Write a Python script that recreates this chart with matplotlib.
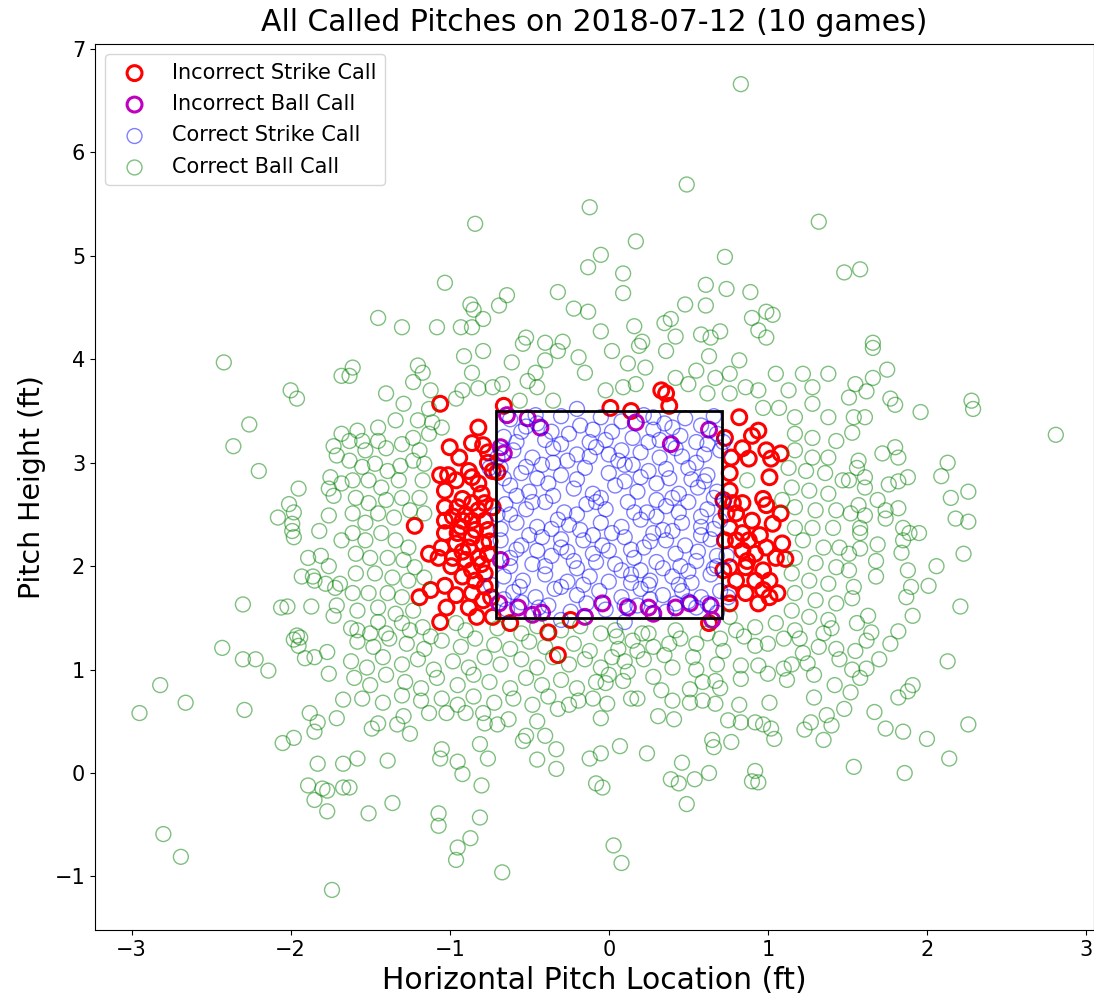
import matplotlib
matplotlib.use("Agg")
import matplotlib.pyplot as plt
from matplotlib.patches import Rectangle
import numpy as np

title = "All Called Pitches on 2018-07-12 (10 games)"
x_label = "Horizontal Pitch Location (ft)"
y_label = "Pitch Height (ft)"
zone_x = [-0.71, 0.71]
zone_y = [1.5, 3.5]

incorrect_strike = [
(-1.06,3.57),(-0.66,3.55),(-0.82,3.34),(-1.00,3.15),(-0.94,3.05),(-0.86,3.19),(-0.79,3.17),(-0.76,3.10),
(-1.06,2.88),(-1.01,2.88),(-0.96,2.83),(-0.86,2.86),(-0.82,2.80),(-0.70,2.91),(-1.03,2.73),(-1.03,2.57),
(-0.95,2.57),(-0.86,2.61),(-0.82,2.54),(-0.78,2.61),(-0.73,2.57),(-1.03,2.44),(-0.92,2.44),(-0.86,2.44),
(-0.78,2.44),(-1.22,2.39),(-1.03,2.32),(-0.95,2.32),(-0.84,2.35),(-0.76,2.35),(-1.05,2.18),(-0.96,2.22),
(-0.88,2.18),(-0.79,2.22),(-1.13,2.12),(-1.07,2.08),(-0.98,2.08),(-0.90,2.06),(-0.82,2.08),(-0.76,2.12),
(-0.86,1.96),(-0.78,1.93),(-0.84,1.86),(-0.78,1.80),(-1.03,1.81),(-1.12,1.77),(-1.19,1.70),(-0.86,1.74),
(-0.79,1.67),(-1.02,1.60),(-0.88,1.60),(-0.83,1.51),(-0.73,1.51),(-1.06,1.46),(-0.62,1.45),(-0.38,1.36),
(-0.24,1.48),(-0.73,2.92),(-0.32,1.14),(-0.92,2.65),(-0.99,2.00),(-0.74,1.70),
(-0.90,2.50),(-0.80,2.70),(-0.93,2.38),(-0.86,2.28),(-0.92,2.14),(-0.80,2.02),(-0.92,1.90),(-0.96,1.72),
(-0.75,2.24),(-0.88,2.92),(-0.76,3.00),(-0.98,2.48),
(0.01,3.53),(0.14,3.50),(0.33,3.70),(0.36,3.67),(0.38,3.55),(0.82,3.44),(0.73,3.24),(0.90,3.26),
(0.94,3.31),(0.84,3.14),(0.77,3.05),(0.99,3.12),(1.02,3.04),(1.08,3.09),(0.88,3.04),(0.76,2.90),
(1.01,2.86),(0.76,2.73),(0.72,2.64),(0.78,2.61),(0.84,2.61),(0.97,2.65),(0.99,2.59),(1.08,2.51),
(0.74,2.51),(0.80,2.51),(0.90,2.44),(1.03,2.41),(0.76,2.37),(0.84,2.32),(0.73,2.25),(0.80,2.25),
(0.88,2.25),(0.99,2.18),(1.09,2.22),(0.84,2.15),(0.92,2.12),(1.05,2.08),(1.11,2.07),(0.76,1.99),
(0.86,1.99),(0.72,1.96),(0.97,1.96),(0.80,1.86),(0.92,1.86),(1.01,1.86),(0.76,1.74),(0.86,1.74),
(0.97,1.77),(1.06,1.74),(0.76,1.64),(0.94,1.64),(1.01,1.70),(0.63,1.45),(0.87,2.05),(0.95,2.30),
]

incorrect_ball = [
(-0.64,3.46),(-0.51,3.43),(-0.43,3.34),(-0.68,3.15),(-0.66,3.09),(-0.68,2.06),(-0.69,1.64),(-0.57,1.60),
(-0.48,1.53),(-0.42,1.55),(-0.15,1.51),(0.17,3.39),(0.39,3.18),(0.63,3.32),(-0.04,1.64),(0.12,1.60),
(0.25,1.60),(0.28,1.54),(0.42,1.60),(0.51,1.64),(0.64,1.62),(0.65,1.48),
]

correct_strike = [
(-0.62,3.42),(-0.45,3.38),(-0.30,3.45),(-0.18,3.36),(-0.05,3.44),(0.08,3.40),(0.22,3.46),(0.35,3.38),(0.48,3.43),(0.58,3.36),(0.66,3.45),
(-0.66,3.25),(-0.55,3.30),(-0.40,3.22),(-0.25,3.28),(-0.12,3.20),(0.02,3.30),(0.15,3.24),(0.28,3.32),(0.45,3.26),(0.55,3.20),(0.68,3.28),
(-0.60,3.12),(-0.48,3.05),(-0.35,3.14),(-0.20,3.08),(-0.08,3.15),(0.06,3.02),(0.20,3.10),(0.32,3.05),(0.42,3.14),(0.60,3.08),(0.70,3.12),
(-0.68,2.95),(-0.55,2.90),(-0.42,2.98),(-0.30,2.88),(-0.15,2.95),(0.00,2.90),(0.10,2.98),(0.25,2.92),(0.38,2.85),(0.50,2.95),(0.62,2.88),
(-0.62,2.78),(-0.50,2.72),(-0.38,2.80),(-0.22,2.75),(-0.10,2.70),(0.04,2.78),(0.18,2.72),(0.30,2.80),(0.44,2.70),(0.56,2.76),(0.68,2.72),
(-0.65,2.60),(-0.52,2.55),(-0.40,2.62),(-0.28,2.52),(-0.14,2.60),(-0.02,2.55),(0.12,2.62),(0.24,2.52),(0.36,2.58),(0.50,2.62),(0.62,2.55),
(-0.58,2.42),(-0.45,2.38),(-0.32,2.45),(-0.18,2.35),(-0.05,2.42),(0.08,2.38),(0.20,2.45),(0.34,2.35),(0.46,2.42),(0.58,2.38),(0.70,2.44),
(-0.68,2.25),(-0.55,2.20),(-0.42,2.28),(-0.30,2.18),(-0.16,2.25),(-0.04,2.20),(0.10,2.28),(0.22,2.18),(0.36,2.25),(0.48,2.20),(0.64,2.26),
(-0.62,2.08),(-0.48,2.02),(-0.36,2.10),(-0.22,2.05),(-0.10,2.12),(0.04,2.02),(0.16,2.08),(0.30,2.04),(0.42,2.12),(0.55,2.05),(0.68,2.10),
(-0.66,1.90),(-0.54,1.86),(-0.40,1.92),(-0.26,1.85),(-0.12,1.90),(0.00,1.85),(0.14,1.92),(0.26,1.86),(0.40,1.90),(0.52,1.84),(0.64,1.92),
(-0.60,1.75),(-0.46,1.70),(-0.34,1.78),(-0.20,1.72),(-0.06,1.76),(0.08,1.70),(0.20,1.78),(0.34,1.72),(0.46,1.76),(0.58,1.70),(0.70,1.76),
(-0.64,1.58),(-0.38,1.62),(-0.24,1.56),(-0.02,1.58),(0.18,1.62),(0.36,1.56),(0.55,1.60),(0.68,1.55),
(-0.52,3.35),(-0.10,3.32),(0.40,3.34),(-0.35,3.00),(0.15,2.98),(0.55,3.00),(-0.58,2.68),(-0.05,2.66),(0.40,2.66),(-0.25,2.40),
(0.28,2.32),(-0.50,2.30),(0.58,2.30),(-0.20,1.98),(0.20,1.96),(0.45,2.00),(-0.55,1.65),(0.10,1.62),(0.50,1.66),(-0.30,3.18),
(0.25,3.20),(-0.45,2.85),(0.10,2.82),(0.60,2.82),(-0.35,2.68),(0.30,2.48),(-0.10,2.30),(0.00,2.15),(-0.45,2.15),(0.50,1.95),
(-0.30,1.80),(0.25,1.82),(0.00,3.08),(-0.62,2.00),(0.66,1.98),(-0.14,1.64),(0.42,1.64),(-0.70,2.50),(0.72,2.62),(-0.70,3.05),
(0.72,3.20),(-0.74,1.82),(0.74,2.10),(-0.75,2.95),(0.75,1.70),(-0.20,3.52),(0.10,1.46),(-0.30,1.48),
(-0.58,3.20),(-0.36,3.30),(-0.02,3.22),(0.32,3.22),(0.62,3.18),(-0.26,3.02),(0.08,3.12),(0.46,3.06),(-0.66,2.85),(-0.20,2.84),
(0.20,2.86),(0.52,2.84),(-0.48,2.62),(-0.08,2.62),(0.30,2.64),(0.66,2.66),(-0.62,2.50),(-0.20,2.50),(0.16,2.52),(0.44,2.52),
(-0.36,2.36),(0.02,2.32),(0.40,2.34),(0.66,2.36),(-0.58,2.16),(-0.26,2.14),(0.14,2.16),(0.56,2.14),(-0.40,2.00),(0.08,1.96),
(0.34,1.98),(-0.56,1.80),(-0.16,1.82),(0.14,1.84),(0.44,1.82),(-0.44,1.60),(0.26,1.68),(0.62,1.64),(-0.46,3.46),(0.28,3.44),
(-0.12,3.06),(0.36,2.94),(-0.52,2.96),(0.58,2.48),(-0.68,2.36),(-0.30,2.26),(0.26,2.24),(0.68,2.00),(-0.08,2.04),(-0.66,1.68),
]

correct_ball = [
(-0.84,5.31),(-0.12,5.47),(-0.13,4.89),(-1.03,4.74),(-0.32,4.65),(-0.64,4.62),(-0.69,4.52),(-0.87,4.53),(-0.85,4.48),(-0.79,4.39),
(-0.86,4.31),(-0.93,4.31),(-1.08,4.31),(-1.30,4.31),(-1.45,4.40),(-0.22,4.49),(-0.13,4.46),(-0.52,4.21),(-0.40,4.16),(-0.29,4.17),
(0.83,6.66),(0.49,5.69),(1.32,5.33),(0.17,5.14),(-0.05,5.01),(0.73,4.99),(0.09,4.83),(0.09,4.64),(0.61,4.72),(0.74,4.68),
(0.89,4.65),(0.48,4.53),(0.61,4.52),(0.35,4.35),(0.39,4.39),(0.16,4.32),(0.90,4.40),(0.99,4.46),(1.03,4.43),(0.94,4.28),
(0.99,4.21),(0.70,4.27),(0.58,4.24),(0.64,4.21),(0.42,4.22),(0.21,4.17),(1.48,4.84),(-0.05,4.27),(1.58,4.87),(1.66,4.16),
(-2.42,3.97),(-2.00,3.70),(-1.96,3.62),(-2.26,3.37),(-2.36,3.16),(-2.20,2.92),(-1.95,2.75),(-2.01,2.60),(-2.08,2.47),(-1.98,2.52),
(-1.99,2.41),(-1.99,2.34),(-1.98,2.28),(-1.82,2.34),(-1.76,2.49),(-1.68,3.84),(-1.68,3.28),(-1.73,3.16),(-1.71,3.07),(-1.75,2.86),
(-1.76,2.75),(-1.73,2.68),(-1.68,2.80),(-1.68,2.25),(-1.89,2.08),(-1.81,2.10),(-1.76,2.00),(-1.93,1.90),(-1.86,1.90),(-1.85,1.86),
(-1.78,1.83),(-1.72,1.79),(-1.69,1.83),(-2.30,1.63),(-2.06,1.60),(-2.02,1.61),(-1.87,1.61),(-1.71,1.62),(-1.73,1.52),(-1.96,1.33),
(-1.94,1.31),
(-2.43,1.21),(-2.30,1.10),(-2.22,1.10),(-2.14,0.99),(-2.82,0.85),(-2.66,0.68),(-2.95,0.58),(-2.29,0.61),(-1.98,1.29),(-1.95,1.23),
(-1.91,1.11),(-1.85,1.12),(-1.77,1.17),(-1.76,0.96),(-1.88,0.58),(-1.83,0.49),(-1.85,0.40),(-1.71,0.53),(-1.98,0.34),(-2.05,0.29),
(-1.83,0.09),(-1.67,0.09),(-1.89,-0.12),(-1.80,-0.15),(-1.77,-0.17),(-1.85,-0.26),(-1.77,-0.37),(-1.67,-0.14),(-2.80,-0.59),(-2.69,-0.81),
(-1.74,-1.13),(-1.67,0.71),
(-0.67,-0.96),(-0.96,-0.84),(-0.95,-0.72),(-0.87,-0.63),(-0.81,-0.43),(-1.07,-0.51),(-1.07,-0.39),(-1.36,-0.29),(-1.51,-0.39),(-1.63,-0.14),
(-0.80,-0.12),(-0.92,-0.01),(-0.95,0.11),(-1.05,0.23),(-1.06,0.14),(-0.81,0.28),(-0.76,0.14),(-1.39,0.12),(-1.58,0.14),(-0.45,0.13),
(-0.33,0.23),(-0.33,0.04),(-0.54,0.31),(-0.52,0.36),(-0.40,0.36),(-0.12,0.14),(-0.08,-0.10),(-1.49,0.43),(-1.45,0.48),(-1.29,0.55),
(-1.25,0.38),(-1.33,0.47),(-1.13,0.58),(-1.02,0.58),(-0.90,0.58),(-0.79,0.58),(-0.78,0.48),(-0.70,0.47),(-0.63,0.52),(-0.45,0.50),
(-0.32,0.62),(-0.19,0.70),
(-1.58,1.27),(-1.48,1.22),(-1.38,1.30),(-1.27,1.25),(-1.16,1.20),(-1.05,1.28),(-0.93,1.22),(-0.84,1.30),(-0.72,1.24),(-0.62,1.20),
(-0.50,1.27),(-0.40,1.22),(-0.22,1.25),(-0.12,1.18),
(-1.62,1.08),(-1.52,1.02),(-1.42,1.12),(-1.30,1.05),(-1.20,1.10),(-1.10,1.00),(-0.98,1.08),(-0.88,1.02),(-0.78,1.12),(-0.68,1.05),
(-0.55,1.10),(-0.45,1.02),(-0.35,1.12),(-0.25,1.05),(-0.15,1.10),(-0.05,1.02),
(-1.60,0.92),(-1.50,0.85),(-1.40,0.95),(-1.28,0.88),(-1.18,0.82),(-1.08,0.92),(-0.95,0.85),(-0.85,0.95),(-0.75,0.88),(-0.62,0.82),
(-0.52,0.92),(-0.42,0.85),(-0.30,0.90),(-0.20,0.82),(-0.08,0.88),
(-1.55,0.72),(-1.42,0.68),(-1.30,0.75),(-1.18,0.70),(-1.05,0.72),(-0.95,0.66),(-0.85,0.74),(-0.72,0.68),(-0.60,0.72),(-0.48,0.66),
(-0.38,0.74),(-0.25,0.66),(-0.10,0.72),
(-1.62,1.40),(-1.50,1.35),(-1.25,1.38),(-1.12,1.32),(-0.90,1.38),(-0.70,1.40),(-0.55,1.35),(-0.45,1.42),(-0.30,1.38),(-0.18,1.42),
(-0.05,1.35),
(0.03,-0.70),(0.08,-0.87),(0.49,-0.30),(0.39,-0.06),(0.44,-0.10),(0.54,-0.06),(0.63,0.00),(0.46,0.10),(0.92,0.02),(0.90,-0.08),
(0.94,-0.09),(-0.04,-0.14),(-0.05,0.19),(0.07,0.26),(0.24,0.19),(0.65,0.32),(0.66,0.25),(0.77,0.30),(1.04,0.33),(1.02,0.43),
(0.97,0.47),(0.92,0.49),(0.83,0.49),(0.75,0.51),(1.23,0.42),(1.27,0.49),(1.35,0.32),(1.37,0.56),(1.40,0.46),(1.01,0.68),
(1.29,0.73),(0.82,0.66),(0.31,0.55),(0.41,0.52),(0.40,0.70),(0.33,0.80),(0.51,0.68),(0.59,0.70),(0.67,0.67),(0.51,0.81),
(0.59,0.88),(0.67,0.89),(0.70,0.82),(0.83,0.91),(0.83,1.04),(0.94,1.04),(1.00,0.96),(1.12,0.90),(1.10,1.01),(1.15,1.05),
(1.25,1.06),(1.29,0.95),(1.22,1.16),(1.43,1.20),(0.92,1.23),(0.72,1.18),(0.53,1.12),(0.35,1.14),(0.18,1.18),(0.14,0.72),
(0.18,0.72),(-0.01,0.67),(-0.05,0.53),(0.28,0.93),(0.09,0.89),(-0.02,0.87),
(0.02,1.12),(0.06,1.20),(0.10,1.08),(0.15,1.28),(0.22,1.10),(0.28,1.22),(0.05,1.32),(0.25,1.35),(0.38,1.25),(0.45,1.30),
(0.55,1.25),(0.62,1.35),(0.70,1.30),(0.85,1.32),(1.00,1.25),(1.10,1.30),(0.40,1.02),(0.55,1.00),(0.68,1.05),(0.12,0.98),(0.00,0.95),
(2.13,1.08),(1.77,1.25),(1.53,1.00),(1.62,1.01),(1.91,0.85),(1.88,0.79),(1.82,0.73),(1.67,0.59),(1.74,0.43),(1.85,0.40),
(2.00,0.33),(2.26,0.47),(2.14,0.14),(1.86,0.00),(1.54,0.06),
(1.48,0.62),(1.52,0.78),(1.58,0.92),(1.45,1.10),(1.55,1.18),(1.62,1.28),(1.70,1.10),(1.42,0.85),
(1.66,4.11),(1.75,3.90),(1.66,3.82),(1.55,3.76),(1.62,3.69),(1.77,3.62),(1.80,3.56),(1.96,3.49),(2.28,3.60),(2.29,3.52),
(2.81,3.27),(1.51,3.63),(1.61,3.44),(1.54,3.44),(1.53,3.29),(1.72,3.09),(1.80,3.15),(1.82,3.05),(2.13,3.00),(2.09,2.87),
(1.76,2.79),(1.82,2.82),(1.88,2.86),(1.57,3.02),(1.56,2.95),(1.51,2.83),(1.61,2.86),(1.61,2.76),(2.15,2.66),(2.26,2.72),
(2.18,2.46),(2.26,2.43),(1.69,2.64),(1.57,2.59),(1.52,2.51),(1.61,2.49),(1.74,2.54),(1.74,2.46),(1.82,2.56),(1.58,2.37),
(1.58,2.32),(1.85,2.37),(1.89,2.32),(1.95,2.32),(1.85,2.25),(1.58,2.17),(1.69,2.21),(1.51,2.12),(1.84,2.13),(2.23,2.12),
(1.68,2.05),(1.51,1.96),(1.88,1.96),(2.06,2.00),(1.68,1.90),(1.90,1.80),(2.01,1.81),(1.87,1.70),(1.54,1.80),(1.53,1.69),
(2.21,1.61),(1.91,1.52),(1.63,1.52),(1.56,1.45),(1.65,1.36),(1.82,1.37),
(-1.61,3.92),(-1.63,3.84),(-0.79,4.08),(-0.54,4.15),(-0.91,4.03),(-1.20,3.94),(-1.17,3.87),(-0.86,3.87),(-0.61,3.97),(-0.67,3.76),
(-0.51,3.79),(-0.46,3.87),(-0.40,3.99),(-0.32,4.08),(-0.19,4.02),(-0.15,3.87),(-0.45,3.73),(-0.35,3.60),(-0.56,3.60),(-0.73,3.73),
(-0.82,3.72),(-0.92,3.70),(-0.96,3.62),(-1.12,3.70),(-1.23,3.78),(-1.29,3.57),(-1.40,3.67),(-1.13,3.52),(-1.20,3.41),(-1.34,3.41),
(-1.45,3.34),(-1.58,3.31),(-1.63,3.21),(-1.55,3.21),(-1.45,3.21),(-1.53,3.12),(-1.40,3.14),(-1.30,3.18),(-1.23,3.24),(-1.11,3.39),
(-1.05,3.34),(-1.13,3.28),(-1.19,3.12),(-1.63,3.02),(-1.55,2.96),(-1.47,2.99),(-1.39,2.92),(-1.31,2.97),(-1.23,3.02),(-1.16,2.99),
(-1.61,2.83),(-1.51,2.83),(-1.43,2.76),(-1.32,2.83),(-1.17,2.83),(-1.59,2.66),(-1.51,2.61),(-1.40,2.64),(-1.30,2.66),(-1.19,2.66),
(-1.61,2.51),(-1.53,2.42),(-1.45,2.51),(-1.35,2.47),(-1.25,2.54),(-1.16,2.51),(-1.61,2.32),(-1.53,2.25),(-1.43,2.32),(-1.34,2.25),
(-1.26,2.18),(-1.59,2.12),(-1.50,2.08),(-1.39,2.08),(-1.29,2.06),(-1.22,1.99),(-1.59,1.93),(-1.47,1.93),(-1.36,1.89),(-1.26,1.86),
(-1.16,1.89),(-1.61,1.74),(-1.51,1.74),(-1.39,1.74),(-1.30,1.70),(-1.58,1.57),(-1.45,1.60),(-1.34,1.54),(-1.23,1.57),(-1.45,1.46),
(-1.30,1.45),(-1.17,1.41),(-0.96,1.45),(-1.58,1.38),(-1.40,1.35),
(0.02,4.08),(0.19,4.13),(0.23,3.92),(0.36,4.08),(0.42,3.82),(0.55,3.89),(0.63,4.03),(0.67,3.82),(0.76,3.86),(0.82,3.99),
(0.86,3.73),(0.94,3.70),(1.05,3.86),(1.13,3.70),(1.22,3.86),(1.28,3.73),(1.38,3.86),(0.17,3.76),(0.09,3.73),(-0.02,3.70),
(0.12,3.96),(0.50,3.76),(0.62,3.67),(0.76,3.67),(0.97,3.53),(1.07,3.53),(1.17,3.44),(1.28,3.57),(1.38,3.44),(1.17,3.28),
(1.28,3.24),(1.43,3.21),(1.17,3.12),(1.28,3.05),(1.38,3.05),(1.13,2.95),(1.24,2.92),(1.36,2.90),(1.47,2.83),(1.15,2.76),
(1.26,2.73),(1.38,2.70),(1.09,2.64),(1.17,2.57),(1.30,2.54),(1.43,2.54),(1.17,2.37),(1.28,2.37),(1.41,2.37),(1.22,2.25),
(1.35,2.18),(1.45,2.18),(1.17,2.08),(1.30,2.03),(1.43,1.99),(1.15,1.93),(1.26,1.86),(1.38,1.83),(1.17,1.74),(1.30,1.67),
(1.43,1.64),(1.15,1.57),(1.26,1.51),(1.38,1.48),(1.17,1.38),(1.35,1.35),(0.80,1.38),(0.92,1.41),(1.05,1.45),(0.76,1.51),
(0.21,1.35),(0.04,1.38),(0.42,1.38),(0.87,2.83),(1.20,1.30),(1.32,1.22),(1.40,1.40),
]

xmin, xmax = -3.23, 3.05
ymin, ymax = -1.52, 7.05

fig = plt.figure(figsize=(10.94, 9.96), dpi=100)
ax = fig.add_axes([0.0868, 0.066, 0.9132, 0.890])

def xy(pts):
    a = np.array(pts)
    return a[:, 0], a[:, 1]

x, y = xy(incorrect_strike)
ax.scatter(x, y, s=115, facecolors='none', edgecolors='r', linewidths=2.2, label='Incorrect Strike Call')
x, y = xy(incorrect_ball)
ax.scatter(x, y, s=115, facecolors='none', edgecolors='m', linewidths=2.2, label='Incorrect Ball Call')
x, y = xy(correct_strike)
ax.scatter(x, y, s=115, facecolors='none', edgecolors='b', alpha=0.5, linewidths=1.0, label='Correct Strike Call')
x, y = xy(correct_ball)
ax.scatter(x, y, s=115, facecolors='none', edgecolors='g', alpha=0.5, linewidths=1.0, label='Correct Ball Call')

ax.add_patch(Rectangle((zone_x[0], zone_y[0]), zone_x[1] - zone_x[0], zone_y[1] - zone_y[0],
                       fill=False, edgecolor='black', linewidth=2, zorder=5))

ax.set_xlim(xmin, xmax)
ax.set_ylim(ymin, ymax)
ax.set_xticks([-3, -2, -1, 0, 1, 2, 3])
ax.set_yticks([-1, 0, 1, 2, 3, 4, 5, 6, 7])
ax.tick_params(labelsize=15)
ax.set_title(title, fontsize=21.5, pad=9)
ax.set_xlabel(x_label, fontsize=21.5, labelpad=4)
ax.set_ylabel(y_label, fontsize=20.5, labelpad=6)
ax.legend(loc='upper left', fontsize=15, borderaxespad=0.5, labelspacing=0.55)

fig.savefig("out.png", dpi=100)
